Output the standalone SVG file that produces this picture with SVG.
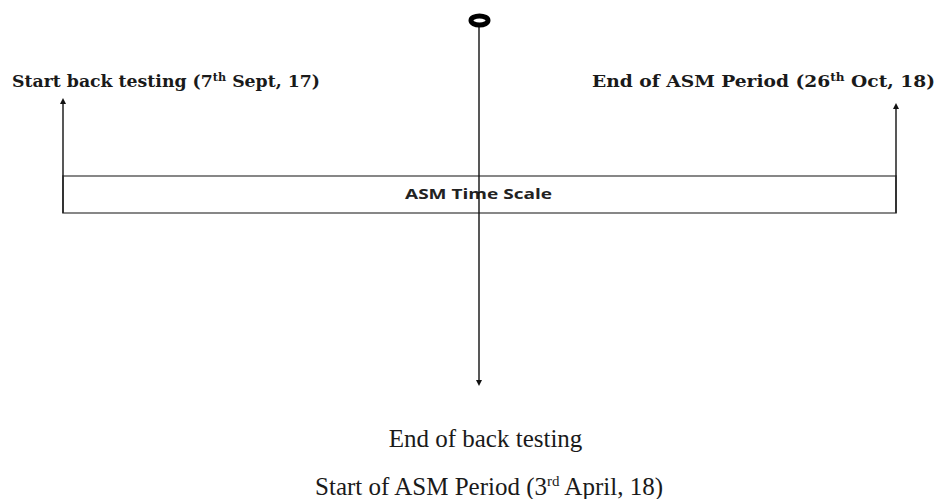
<svg xmlns="http://www.w3.org/2000/svg" width="937" height="499" viewBox="0 0 937 499">
<defs>
<style>
.lbl{fill:#1a1a1a}
.b{font-family:"DejaVu Serif","Liberation Serif",serif;font-weight:bold;font-size:17px}
.r{font-family:"Liberation Serif","Times New Roman",serif;font-size:25px}
.sup{font-size:11px}
.sup2{font-size:15px}
.ln{stroke:#111;stroke-width:1.4;fill:none}
</style>
<marker id="ah" viewBox="0 0 10 10" refX="5" refY="5" markerWidth="6" markerHeight="7" orient="auto-start-reverse" markerUnits="userSpaceOnUse">
<path d="M0,0 L10,5 L0,10 z" fill="#111"/>
</marker>
</defs>
<g id="scale">
<rect x="63" y="176" width="833" height="37" fill="#fff" stroke="#6a6a6a" stroke-width="1.6"/>
<text x="478.5" y="199" text-anchor="middle" textLength="147" lengthAdjust="spacingAndGlyphs" style="font-family:'Open Sans','Liberation Sans',sans-serif;font-weight:bold;font-size:15px;fill:#222">ASM Time Scale</text>
</g>
<g id="connectors">
<line class="ln" x1="479" y1="26" x2="479" y2="383" marker-end="url(#ah)"/>
<line class="ln" x1="63" y1="213" x2="63" y2="101" marker-end="url(#ah)"/>
<line class="ln" x1="896" y1="213" x2="896" y2="106" marker-end="url(#ah)"/>
</g>
<g id="origin">
<ellipse cx="479.5" cy="20.5" rx="8.5" ry="4.5" fill="none" stroke="#000" stroke-width="5"/>
</g>
<g id="start">
<text class="lbl b" x="12" y="87" textLength="308" lengthAdjust="spacingAndGlyphs">Start back testing (7<tspan class="sup" dy="-6">th</tspan><tspan dy="6"> Sept, 17)</tspan></text>
</g>
<g id="end">
<text class="lbl b" x="592" y="87" textLength="343" lengthAdjust="spacingAndGlyphs">End of ASM Period (26<tspan class="sup" dy="-6">th</tspan><tspan dy="6"> Oct, 18)</tspan></text>
</g>
<g id="middle">
<text class="lbl r" x="485.5" y="447" text-anchor="middle">End of back testing</text>
<text class="lbl r" x="489" y="495" text-anchor="middle">Start of ASM Period (3<tspan class="sup2" dy="-9">rd</tspan><tspan dy="9"> April, 18)</tspan></text>
</g>
</svg>
